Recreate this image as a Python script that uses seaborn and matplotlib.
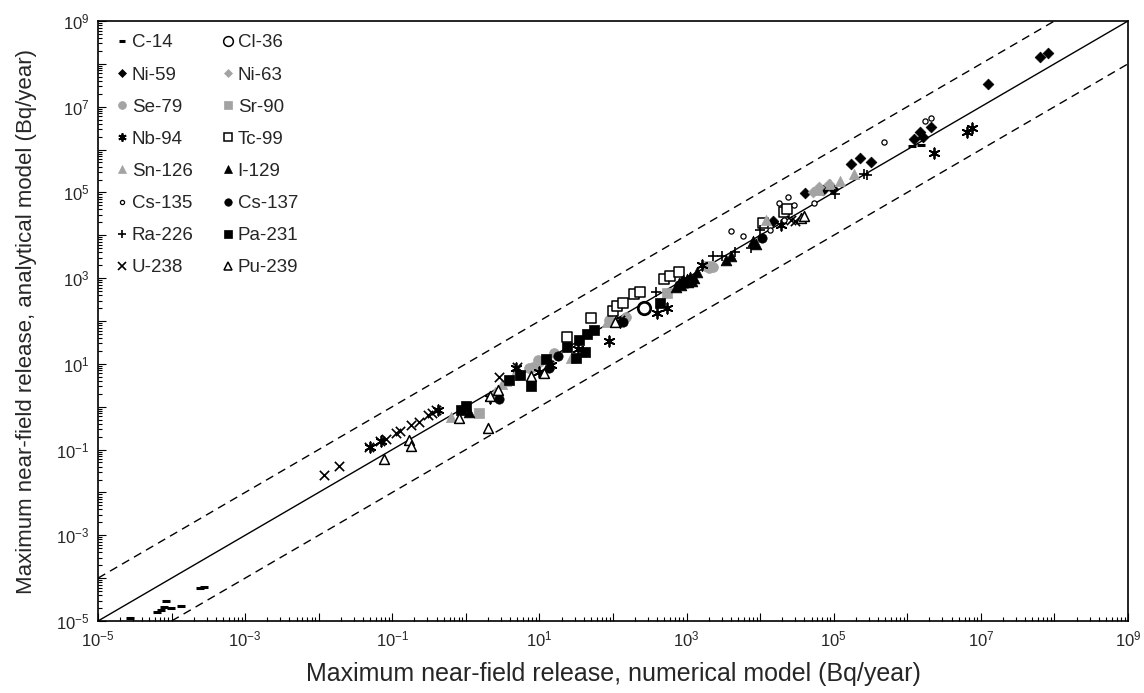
import numpy as np
import pandas as pd
import matplotlib
matplotlib.use("Agg")
import matplotlib.pyplot as plt
import seaborn as sns
from matplotlib.ticker import LogLocator, FuncFormatter, NullFormatter
from matplotlib.lines import Line2D

sns.set_theme(style="ticks")
plt.rcParams["font.family"] = ["Liberation Sans", "DejaVu Sans"]
plt.rcParams["mathtext.fontset"] = "custom"
plt.rcParams["mathtext.rm"] = "Liberation Sans"

# Maximum near-field release (Bq/year): numerical model (x) vs analytical model (y)
c14_num = [2.7e-5, 6.3e-5, 7.2e-5, 7.8e-5, 8.5e-5, 9.8e-5, 1.35e-4, 2.4e-4, 2.8e-4, 1.15e6, 1.55e6]
c14_ana = [1.15e-5, 1.6e-5, 1.8e-5, 2.1e-5, 3.0e-5, 2.0e-5, 2.2e-5, 5.9e-5, 6.2e-5, 1.2e6, 1.3e6]

cl36_num = [2.6e2]
cl36_ana = [2.0e2]

ni59_num = [1.5e4, 4.1e4, 7.2e4, 9.8e4, 1.74e5, 2.3e5, 3.2e5, 1.23e6, 1.5e6, 1.66e6, 2.1e6, 1.26e7, 6.3e7, 8.1e7]
ni59_ana = [2.1e4, 9.8e4, 1.15e5, 1.23e5, 4.6e5, 6.5e5, 5.2e5, 1.74e6, 2.6e6, 2.0e6, 3.3e6, 3.4e7, 1.48e8, 1.8e8]

ni63_num = [5.2e4, 6.3e4, 8.5e4]
ni63_ana = [1.0e5, 1.35e5, 1.6e5]

se79_num = [8.1, 7.2, 10, 9.5, 16, 89, 150, 2.0e3, 2.3e3]
se79_ana = [8.5, 7.9, 11, 12.3, 18, 105, 126, 1.7e3, 1.8e3]

sr90_num = [1.5, 5.5e2, 2.0e3]
sr90_ana = [0.72, 4.5e2, 1.9e3]

nb94_num = [0.05, 0.071, 0.42, 2.1, 4.8, 10, 14.5, 33, 87, 126, 4.0e2, 5.5e2, 1.6e3, 1.9e4, 2.3e6, 6.5e6, 7.6e6]
nb94_ana = [0.112, 0.16, 0.83, 1.6, 7.9, 6.6, 9.3, 22, 35, 95, 1.55e2, 2.0e2, 2.0e3, 1.74e4, 8.1e5, 2.6e6, 3.2e6]

tc99_num = [24, 51, 100, 115, 138, 190, 234, 490, 600, 790, 1.1e4, 2.1e4, 2.3e4]
tc99_ana = [43, 115, 174, 224, 270, 430, 480, 930, 1.1e3, 1.4e3, 1.9e4, 3.5e4, 4.0e4]

sn126_num = [0.63, 2.5, 3.1, 3.5, 4.5, 27, 83, 1.2e4, 6.3e4, 8.9e4, 1.2e5, 1.86e5]
sn126_ana = [0.59, 2.2, 3.4, 4.0, 5.6, 13.5, 95, 2.3e4, 1.17e5, 1.6e5, 1.8e5, 2.7e5]

i129_num = [1.1, 708, 790, 832, 850, 890, 1.0e3, 1.05e3, 1.12e3, 1.2e3, 1.26e3, 1.4e3, 3.4e3, 4.0e3, 8.1e3, 8.9e3]
i129_ana = [0.76, 631, 760, 832, 690, 890, 955, 794, 1.05e3, 850, 1.0e3, 1.4e3, 2.6e3, 3.2e3, 7.4e3, 6.3e3]

cs135_num = [4.0e3, 5.8e3, 1.35e4, 1.8e4, 2.1e4, 2.4e4, 2.9e4, 5.4e4, 4.9e5, 1.74e6, 2.1e6]
cs135_ana = [1.26e4, 9.5e3, 1.3e4, 5.8e4, 2.3e4, 7.9e4, 5.1e4, 5.6e4, 1.5e6, 4.7e6, 5.5e6]

cs137_num = [2.8, 13.5, 18, 135, 794, 890, 950, 1.0e3, 1.07e3, 1.05e4]
cs137_ana = [1.5, 7.9, 15, 95, 708, 790, 830, 760, 891, 8.5e3]

ra226_num = [380, 2.3e3, 3.0e3, 4.5e3, 7.6e3, 1.0e4, 1.05e5, 2.6e5, 2.8e5]
ra226_ana = [480, 3.2e3, 3.3e3, 4.0e3, 5.0e3, 1.3e4, 9.1e4, 2.75e5, 2.5e5]

pa231_num = [0.85, 1.0, 3.9, 5.5, 7.6, 12.3, 24, 31, 35, 42, 45, 55, 440]
pa231_ana = [0.83, 1.05, 4.2, 5.5, 3.0, 12.9, 25, 13.5, 36, 19, 51, 62, 270]

u238_num = [0.0117, 0.0186, 0.049, 0.068, 0.081, 0.112, 0.129, 0.18, 0.23, 0.31, 0.35, 0.39,
            2.8, 4.9, 13.5, 126, 2.6e4, 3.0e4]
u238_ana = [0.026, 0.042, 0.112, 0.158, 0.18, 0.25, 0.27, 0.37, 0.45, 0.65, 0.71, 0.83,
            5.0, 8.3, 9.3, 105, 2.3e4, 2.2e4]

pu239_num = [0.076, 0.17, 0.18, 0.81, 2.0, 2.1, 2.7, 7.7, 11.5, 107, 3.6e4, 4.0e4]
pu239_ana = [0.059, 0.17, 0.12, 0.54, 0.32, 1.8, 2.5, 5.2, 6.0, 95, 2.6e4, 2.8e4]

GREY = "#a3a3a3"
ASTER = (6, 2, 0)

# nuclide -> (num, ana, marker, size, face, edge, linewidth)
series = {
    "C-14":   (c14_num, c14_ana, "_", 30, "black", "black", 2.2),
    "Cl-36":  (cl36_num, cl36_ana, "o", 80, "white", "black", 2.0),
    "Ni-59":  (ni59_num, ni59_ana, "D", 30, "black", "black", 0.5),
    "Ni-63":  (ni63_num, ni63_ana, "D", 30, GREY, GREY, 0.5),
    "Se-79":  (se79_num, se79_ana, "o", 50, GREY, GREY, 0.5),
    "Sr-90":  (sr90_num, sr90_ana, "s", 42, GREY, GREY, 0.5),
    "Nb-94":  (nb94_num, nb94_ana, ASTER, 55, "black", "black", 1.3),
    "Tc-99":  (tc99_num, tc99_ana, "s", 42, "white", "black", 1.1),
    "Sn-126": (sn126_num, sn126_ana, "^", 55, GREY, GREY, 0.5),
    "I-129":  (i129_num, i129_ana, "^", 60, "black", "black", 0.5),
    "Cs-135": (cs135_num, cs135_ana, "o", 14, "white", "black", 0.9),
    "Cs-137": (cs137_num, cs137_ana, "o", 45, "black", "black", 0.5),
    "Ra-226": (ra226_num, ra226_ana, "+", 55, "black", "black", 1.2),
    "Pa-231": (pa231_num, pa231_ana, "s", 42, "black", "black", 0.5),
    "U-238":  (u238_num, u238_ana, "x", 45, "black", "black", 1.2),
    "Pu-239": (pu239_num, pu239_ana, "^", 50, "white", "black", 1.1),
}

rows = []
for name, (xs, ys, *_rest) in series.items():
    for a, b in zip(xs, ys):
        rows.append({"nuclide": name, "numerical": a, "analytical": b})
df = pd.DataFrame(rows)

fig = plt.figure(figsize=(11.44, 6.93), dpi=100)
ax = fig.add_axes([98 / 1144, 1 - 621 / 693, 1030 / 1144, 600 / 693])

ax.set_xscale("log")
ax.set_yscale("log")
lo, hi = 1e-5, 1e9
ax.set_xlim(lo, hi)
ax.set_ylim(lo, hi)

# 1:1 line and factor-of-ten bounds
ax.plot([lo, hi], [lo, hi], color="black", lw=1.0, zorder=1)
ax.plot([lo, hi / 10], [lo * 10, hi], color="black", lw=1.0, ls=(0, (6, 4)), zorder=1)
ax.plot([lo * 10, hi], [lo, hi / 10], color="black", lw=1.0, ls=(0, (6, 4)), zorder=1)

handles = {}
for name, (xs, ys, mk, size, face, edge, lw) in series.items():
    sub = df[df["nuclide"] == name]
    if mk in ("_", "x", "+", ASTER):
        sns.scatterplot(data=sub, x="numerical", y="analytical", marker=mk, s=size,
                        color=face, linewidth=lw, ax=ax, legend=False, zorder=3)
        handles[name] = Line2D([], [], ls="none", marker=mk, color=face,
                               markersize=np.sqrt(size) * 0.8, markeredgewidth=lw)
    else:
        sns.scatterplot(data=sub, x="numerical", y="analytical", marker=mk, s=size,
                        color=face, edgecolor=edge, linewidth=lw, ax=ax, legend=False, zorder=3)
        ms = np.sqrt(size) * 0.8 if name != "Cl-36" else 7
        mlw = lw if name != "Cl-36" else 1.1
        handles[name] = Line2D([], [], ls="none", marker=mk, markerfacecolor=face,
                               markeredgecolor=edge, markersize=ms, markeredgewidth=mlw)

names = list(series.keys())
order = names[0::2] + names[1::2]
ax.legend([handles[n] for n in order], order, ncol=2, loc="upper left",
          frameon=False, fontsize=13.5, handlelength=0.6, handletextpad=0.2,
          columnspacing=1.55, labelspacing=0.8, borderaxespad=0.6,
          bbox_to_anchor=(0.0, 1.009))

def fmt(v, pos):
    e = int(round(np.log10(v)))
    return r"$\mathregular{10^{%d}}$" % e if e % 2 else ""

for axis in (ax.xaxis, ax.yaxis):
    axis.set_major_locator(LogLocator(base=10, numticks=30))
    axis.set_minor_locator(LogLocator(base=10, subs=np.arange(2, 10), numticks=30))
    axis.set_major_formatter(FuncFormatter(fmt))
    axis.set_minor_formatter(NullFormatter())

ax.tick_params(which="both", direction="in", top=False, right=False,
               labelsize=12, color="black", width=0.8)
ax.tick_params(which="major", length=6, pad=6)
ax.tick_params(which="minor", length=3)
for sp in ax.spines.values():
    sp.set_linewidth(1.2)
    sp.set_color("black")

ax.set_xlabel("Maximum near-field release, numerical model (Bq/year)", fontsize=18)
ax.set_ylabel("Maximum near-field release, analytical model (Bq/year)", fontsize=16)
ax.xaxis.set_label_coords(0.5, -0.069)
ax.yaxis.set_label_coords(-0.059, 0.5)

fig.savefig("out.png", dpi=100, facecolor="white")
